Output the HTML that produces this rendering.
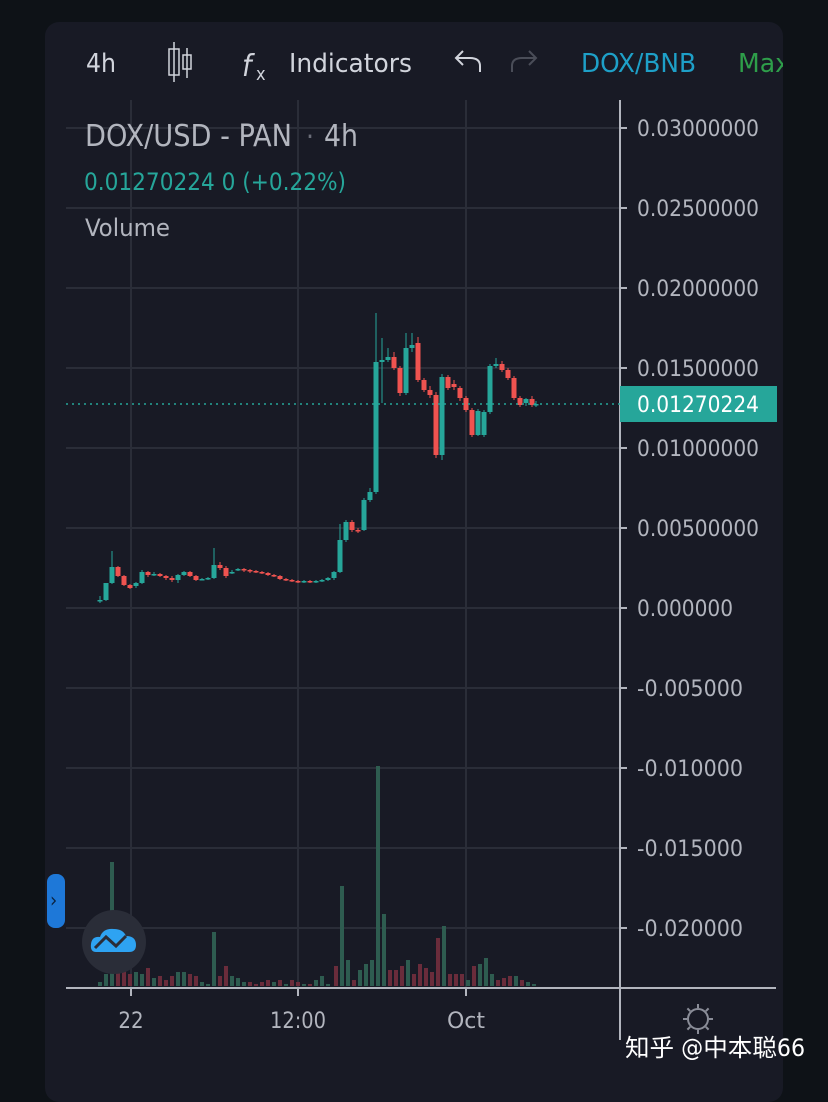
<!DOCTYPE html>
<html><head><meta charset="utf-8"><style>
html,body{margin:0;padding:0;background:#0e1217;}
body{width:828px;height:1082px;position:relative;overflow:hidden;font-family:"DejaVu Sans Condensed","DejaVu Sans","Noto Sans CJK SC",sans-serif;}
.panel{position:absolute;left:45px;top:22px;width:738px;height:1080px;background:#181a25;border-radius:14px;}
svg{position:absolute;left:0;top:0;}
</style></head><body>
<div class="panel"></div>
<svg id="s" width="828" height="1082" viewBox="0 0 828 1082"></svg>
<script>
var s=document.getElementById('s'),h='';
function L(x1,y1,x2,y2,c,w,d){h+='<line x1="'+x1+'" y1="'+y1+'" x2="'+x2+'" y2="'+y2+'" stroke="'+c+'" stroke-width="'+(w||1)+'"'+(d?' stroke-dasharray="'+d+'"':'')+'/>';}
function T(x,y,t,c,sz,a,tl){h+='<text x="'+x+'" y="'+y+'" fill="'+c+'" font-size="'+sz+'"'+(a?' text-anchor="'+a+'"':'')+(tl?' textLength="'+tl+'" lengthAdjust="spacingAndGlyphs"':'')+'>'+t+'</text>';}
function R(x,y,w,hh,c){h+='<rect x="'+x+'" y="'+y+'" width="'+w+'" height="'+hh+'" fill="'+c+'"/>';}
var lab=['0.03000000','0.02500000','0.02000000','0.01500000','0.01000000','0.00500000','0.000000','-0.005000','-0.010000','-0.015000','-0.020000'];
for(var i=0;i<11;i++){var y=128+80*i;L(66,y,620,y,'#2a2d38',2);L(620,y,627,y,'#b2b5be',2);T(637,y+8,lab[i],'#b2b5be',22,null,lab[i].length==10?122:(lab[i].length==8?96:106));}
[131,298,466].forEach(function(x){L(x,100,x,988,'#2a2d38',2);});
L(620,100,620,1040,'#b2b5be',2);L(66,988,776,988,'#b2b5be',2);
[131,298,466].forEach(function(x){L(x,988,x,996,'#b2b5be',2);});
T(131,1028,'22','#b2b5be',22,'middle');T(298,1028,'12:00','#b2b5be',22,'middle',56);T(466,1028,'Oct','#b2b5be',22,'middle',38);
var vol=[[100,4,1],[106,12,1],[112,124,1],[118,26,0],[124,20,0],[130,12,0],[136,14,1],[142,12,1],[148,18,0],[154,8,1],[160,10,0],[166,6,0],[172,10,0],[178,14,1],[184,14,1],[190,12,0],[196,10,0],[202,4,1],[208,2,1],[214,54,1],[220,10,0],[226,20,0],[232,10,1],[238,8,1],[244,4,1],[250,4,0],[256,2,0],[262,4,0],[268,6,0],[274,4,1],[280,6,0],[286,2,1],[292,6,0],[298,4,0],[304,2,1],[310,2,0],[316,6,1],[322,10,1],[328,2,1],[336,20,0],[342,100,1],[348,26,1],[354,6,0],[360,16,1],[366,22,1],[372,26,1],[378,220,1],[384,72,1],[390,16,0],[396,16,0],[402,20,0],[408,26,1],[414,12,0],[420,22,0],[426,18,0],[432,14,0],[438,48,0],[444,60,1],[450,12,0],[456,12,0],[462,12,0],[468,6,1],[474,20,0],[480,22,1],[486,28,1],[492,12,1],[498,6,0],[504,8,0],[510,10,0],[516,10,1],[522,6,0],[528,4,1],[534,2,1]];
vol.forEach(function(v){R(v[0]-2,986-v[1],4,v[1],v[2]?'#2e5c50':'#6a2c3b');});
var c=[[100,600,600,596,603],[106,600,583,583,601],[112,583,567,551,584],[118,567,576,566,577],[124,576,585,575,586],[130,585,588,584,589],[136,586,583,582,588],[142,583,572,570,584],[148,572,575,571,577],[154,574,574,572,576],[160,574,576,573,577],[166,576,578,575,580],[172,578,580,576,582],[178,580,575,574,583],[184,575,572,571,576],[190,572,576,571,577],[196,576,580,575,581],[202,579,579,578,580],[208,579,578,577,580],[214,578,565,548,579],[220,565,568,562,570],[226,568,576,566,578],[232,572,572,570,574],[238,570,569,568,571],[244,569,570,568,572],[250,570,571,569,573],[256,571,572,570,573],[262,572,573,571,574],[268,573,575,572,576],[274,575,576,574,577],[280,576,579,575,580],[286,579,580,578,581],[292,580,581,579,582],[298,581,582,580,583],[304,582,581,580,583],[310,581,582,580,583],[316,582,581,580,583],[322,581,580,579,582],[328,580,578,577,581],[334,578,572,571,580],[340,572,540,524,573],[346,540,522,520,542],[352,522,530,520,532],[358,530,531,528,533],[364,530,500,498,531],[370,500,492,488,502],[376,492,362,313,494],[382,362,360,338,403],[388,360,357,348,362],[394,357,368,352,370],[400,368,393,366,396],[406,393,348,333,395],[412,348,345,333,352],[418,343,380,337,382],[424,380,390,378,392],[430,390,395,386,398],[436,395,455,392,458],[442,455,377,374,460],[448,377,388,375,390],[454,384,387,380,390],[460,388,398,386,401],[466,398,410,396,412],[472,410,435,408,437],[478,435,411,409,436],[484,435,412,410,437],[490,412,366,364,414],[496,366,364,358,368],[502,364,370,361,372],[508,370,378,368,380],[514,378,398,376,400],[520,398,405,396,407],[526,403,399,398,406],[532,399,405,396,407],[536,405,404,401,407]];
c.forEach(function(d){var up=d[2]<=d[1],col=up?'#26a69a':'#ef5350';L(d[0],d[3],d[0],d[4],col,1);var t=Math.min(d[1],d[2]),b=Math.max(Math.abs(d[1]-d[2]),1.5);R(d[0]-2.5,t,5,b,col);});
L(66,404,620,404,'#26a69a',1.5,'2 4');
R(620,386,157,36,'#26a69a');T(637,412,'0.01270224','#ffffff',22,null,122);
T(85,146,'DOX/USD - PAN','#b2b5be',30,null,207);T(306,146,'·','#6a6d78',28);T(324,146,'4h','#b2b5be',30,null,34);
T(84,190,'0.01270224 0 (+0.22%)','#26a69a',24,null,262);
T(85,236,'Volume','#b2b5be',24,null,85);
T(86,72,'4h','#d1d4dc',26,null,30);
L(174,42,174,82,'#d1d4dc',1.5);h+='<rect x="169" y="49" width="10" height="26" fill="none" stroke="#d1d4dc" stroke-width="1.5"/>';
L(187,48,187,78,'#d1d4dc',1.5);h+='<rect x="183" y="55" width="8" height="14" fill="none" stroke="#d1d4dc" stroke-width="1.5"/>';
T(242,76,'<tspan font-style="italic">f</tspan>','#d1d4dc',30);T(256,80,'x','#d1d4dc',18);
T(289,72,'Indicators','#d1d4dc',26,null,123);
h+='<path d="M480 72 V66 Q480 58 470 58 H457 M463 51 L456 58 L463 65" fill="none" stroke="#d1d4dc" stroke-width="2"/>';
h+='<path d="M512 72 V66 Q512 58 522 58 H535 M529 51 L536 58 L529 65" fill="none" stroke="#4a4d58" stroke-width="2"/>';
T(581,72,'DOX/BNB','#1ea0c8',26,null,115);T(738,72,'Max','#2e9e4a',26,null,52);
h+='<rect x="783" y="30" width="45" height="60" fill="#0e1217"/>';
h+='<circle cx="698" cy="1019" r="10" fill="none" stroke="#8a8d98" stroke-width="2"/>';
for(var a=0;a<8;a++){var an=a*Math.PI/4;L(698+11*Math.cos(an),1019+11*Math.sin(an),698+15*Math.cos(an),1019+15*Math.sin(an),'#8a8d98',2);}
h+='<rect x="47" y="874" width="18" height="54" rx="8" fill="#1e78d8"/>';T(50,907,'›','#0b2340',20);
h+='<circle cx="114" cy="942" r="32" fill="#2a2d38"/>';
h+='<path d="M96 952 Q90 952 91 944 Q92 936 100 937 Q103 928 114 929 Q123 929 126 936 Q136 936 136 945 Q136 952 129 952 Z" fill="#2ea3f2"/>';
h+='<path d="M95 948 L106 937 L116 946 L126 936" fill="none" stroke="#2a2d38" stroke-width="3"/>';
T(625,1056,'知乎 @中本聪66','#ffffff',24,null,180);
s.innerHTML=h;
</script>
</body></html>
